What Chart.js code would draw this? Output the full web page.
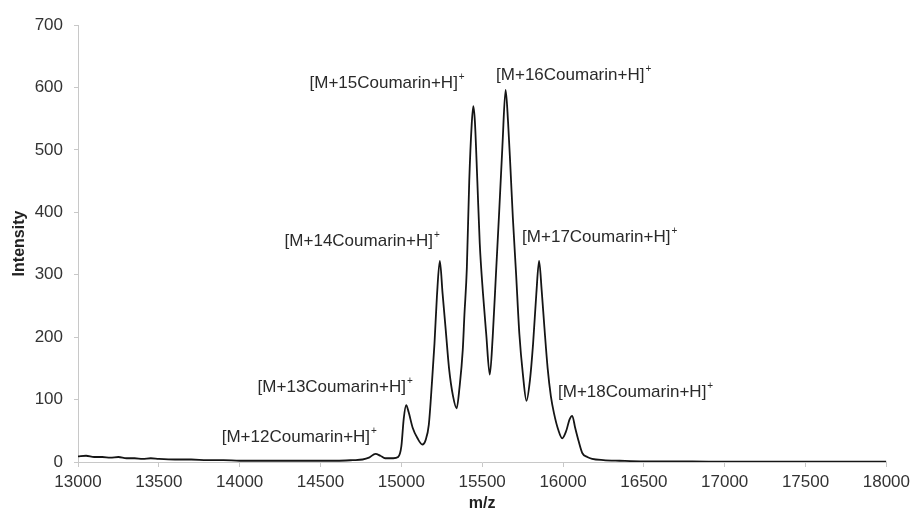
<!DOCTYPE html>
<html>
<head>
<meta charset="utf-8">
<script src="https://cdn.jsdelivr.net/npm/chart.js@4/dist/chart.umd.min.js"></script>
<style>
  html, body { margin: 0; padding: 0; background: #fff; }
  #wrap { width: 915px; height: 513px; position: relative; }
</style>
</head>
<body>
<div id="wrap"><canvas id="chart"></canvas></div>
<script>
// spectrum (m/z vs intensity)
const mz = [
  13000, 13050, 13100, 13150, 13200, 13250, 13300, 13350, 13400, 13450,
  13500, 13600, 13700, 13800, 13900, 14000, 14100, 14200, 14300, 14400,
  14500, 14600, 14700, 14760, 14800, 14840, 14870, 14900, 14950, 14980,
  15000, 15015, 15030, 15045, 15070, 15100, 15130, 15150, 15170, 15190,
  15205, 15220, 15238, 15255, 15275, 15295, 15320, 15342, 15360, 15380,
  15390, 15405, 15420, 15435, 15445, 15455, 15470, 15485, 15505, 15525,
  15547, 15565, 15585, 15605, 15625, 15645, 15660, 15675, 15690, 15710,
  15730, 15752, 15774, 15795, 15815, 15835, 15852, 15868, 15885, 15905,
  15925, 15945, 15970, 15995, 16020, 16040, 16057, 16075, 16095, 16120,
  16150, 16180, 16250, 16350, 16500, 16800, 17000, 17500, 18000
]
const intensity = [
  9, 10, 8, 8, 7, 8, 6, 6, 5, 6,
  5, 4, 4, 3, 3, 2, 2, 2, 2, 2,
  2, 2, 3, 4, 7, 13, 10, 6, 6, 8,
  25, 70, 91, 80, 55, 38, 28, 35, 60, 130,
  190, 265, 322, 270, 210, 150, 105, 86, 120, 180,
  235, 310, 450, 540, 570, 545, 450, 350, 270, 205,
  140, 200, 300, 400, 505, 596, 545, 470, 390, 300,
  205, 140, 98, 130, 190, 270, 322, 275, 215, 150,
  105, 77, 52, 38, 50, 68, 74, 55, 35, 14,
  8, 5, 3, 2, 1, 1, 0.5, 0.5, 0.5
]

// peak labels, anchored at their left edge in data units
const peakLabels = [
  '[M+12Coumarin+H]', '[M+13Coumarin+H]', '[M+14Coumarin+H]', '[M+15Coumarin+H]',
  '[M+16Coumarin+H]', '[M+17Coumarin+H]', '[M+18Coumarin+H]'
]
const labelMz = [13889, 14111, 14278, 14432, 15586, 15747, 15969]
const labelInt = [40, 120, 354, 606, 620, 360, 112]

const xTicks = [13000, 13500, 14000, 14500, 15000, 15500, 16000, 16500, 17000, 17500, 18000]
const yTicks = [0, 100, 200, 300, 400, 500, 600, 700]

const FONT = "'Liberation Sans', Arial, sans-serif"

const peakLabelPlugin = {
  id: 'peakLabels',
  afterDatasetsDraw(chart) {
    const { ctx, scales } = chart
    ctx.save()
    ctx.fillStyle = '#2a2a2a'
    ctx.textBaseline = 'middle'
    ctx.textAlign = 'left'
    peakLabels.forEach((text, i) => {
      const px = scales.x.getPixelForValue(labelMz[i])
      const py = scales.y.getPixelForValue(labelInt[i])
      ctx.font = '17px ' + FONT
      ctx.fillText(text, px, py)
      const w = ctx.measureText(text).width
      // superscript charge
      ctx.font = '10px ' + FONT
      ctx.fillText('+', px + w + 1, py - 6)
    })
    ctx.restore()
  }
}

const points = mz.map((m, i) => ({ x: m, y: intensity[i] }))

new Chart(document.getElementById('chart'), {
  type: 'line',
  data: {
    datasets: [{
      data: points,
      borderColor: '#151515',
      borderWidth: 1.8,
      pointRadius: 0,
      tension: 0.25,
      cubicInterpolationMode: 'monotone',
      fill: false,
    }],
  },
  options: {
    responsive: true,
    maintainAspectRatio: false,
    animation: false,
    layout: { padding: { top: 25, right: 27, left: 10, bottom: 0 } },
    plugins: {
      legend: { display: false },
      tooltip: { enabled: false },
    },
    scales: {
      x: {
        type: 'linear',
        min: 13000,
        max: 18000,
        afterBuildTicks: (scale) => { scale.ticks = xTicks.map(v => ({ value: v })) },
        afterFit: (scale) => { scale.height = 51 },
        ticks: {
          color: '#333',
          font: { family: FONT, size: 17 },
          padding: 5,
          maxRotation: 0,
          autoSkip: false,
          callback: (value) => String(value),
        },
        grid: { display: true, drawOnChartArea: false, drawTicks: true, tickLength: 5, color: '#c8c8c8' },
        border: { display: true, color: '#c8c8c8' },
        title: {
          display: true,
          text: 'm/z',
          color: '#222',
          font: { family: FONT, size: 16, weight: 'bold' },
          padding: { top: 0, bottom: 0 },
        },
      },
      y: {
        type: 'linear',
        min: 0,
        max: 700,
        afterBuildTicks: (scale) => { scale.ticks = yTicks.map(v => ({ value: v })) },
        afterFit: (scale) => { scale.width = 68 },
        ticks: {
          color: '#333',
          font: { family: FONT, size: 17 },
          padding: 11,
        },
        grid: { display: true, drawOnChartArea: false, drawTicks: true, tickLength: 4, color: '#c8c8c8' },
        border: { display: true, color: '#c8c8c8' },
        title: {
          display: true,
          text: 'Intensity',
          color: '#222',
          font: { family: FONT, size: 16, weight: 'bold' },
          padding: { top: 0, bottom: 0 },
        },
      },
    },
  },
  plugins: [peakLabelPlugin],
})
</script>
</body>
</html>
